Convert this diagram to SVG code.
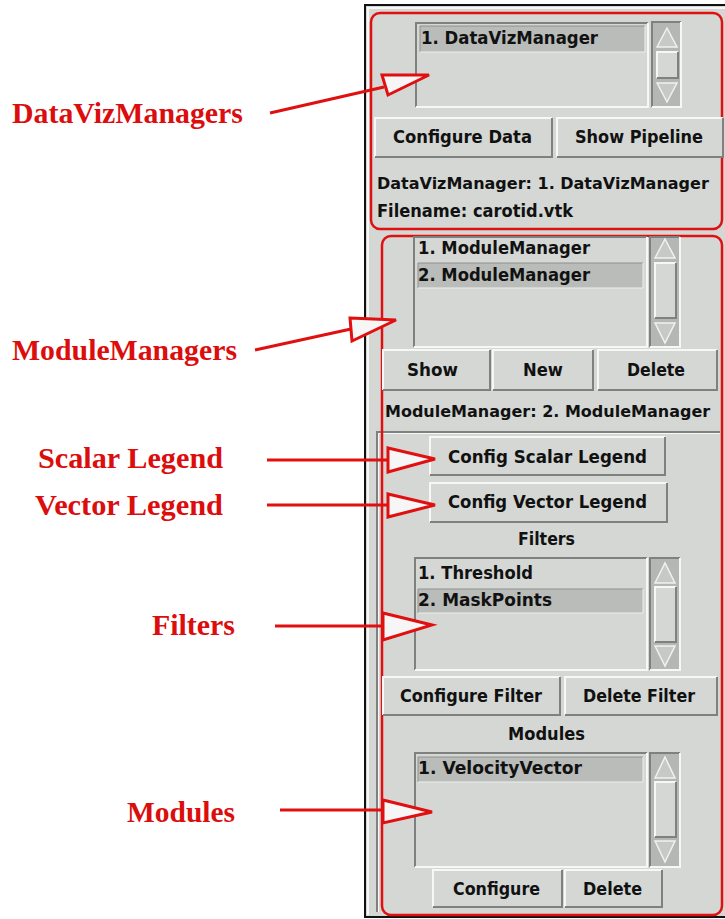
<svg xmlns="http://www.w3.org/2000/svg" width="725" height="919" viewBox="0 0 725 919">
<style>
.lbl{font-family:"Liberation Serif","Times New Roman",serif;font-weight:bold;font-size:29px;fill:#dc0d0d}
.t{font-family:"DejaVu Sans","Liberation Sans",sans-serif;font-weight:bold;font-size:17px;fill:#111}
.t16{font-size:16px}
.bg{fill:#d4d7d4}
.sel{fill:#b9bcb9}
.trough{fill:#b4b7b4}
.hi{fill:none;stroke:#f6f7f6;stroke-width:2}
.sh{fill:none;stroke:#7e817e;stroke-width:2}
.red{fill:none;stroke:#e01010;stroke-width:2.5}
.conn line{stroke:#e01010;stroke-width:3}
.conn polygon{fill:#f6f6f6;stroke:#e01010;stroke-width:3;stroke-linejoin:miter}
</style>
<rect width="725" height="919" fill="#ffffff"/>

<!-- panel frame -->
<g id="panel">
<rect x="365" y="5" width="362" height="912" fill="#d4d7d4" stroke="#111" stroke-width="2"/>
<path d="M368,915 V8 H725" class="hi"/>
<path d="M377,912 V432 H720" class="sh"/>
<path d="M378.5,912 V433.5 H720" fill="none" stroke="#f6f7f6" stroke-width="1"/>
</g>

<!-- DataVizManager section -->
<g id="dataviz-section">
<rect x="371" y="13" width="351" height="216" rx="9" class="red"/>
<g id="dataviz-list">
<rect x="416" y="23" width="232" height="84" class="bg"/>
<path d="M416,107 V23 H648" class="sh"/><path d="M416,107 H648 V23" class="hi"/>
<rect x="420" y="26" width="225" height="26" class="sel"/>
<path d="M420,52 V26 H645" fill="none" stroke="#8e918e" stroke-width="1"/><path d="M420,52 H645 V26" fill="none" stroke="#eef0ee" stroke-width="1"/>
<text x="421" y="44" class="t" textLength="177" lengthAdjust="spacingAndGlyphs">1. DataVizManager</text>
<rect x="652" y="22" width="29" height="85" class="trough"/>
<path d="M652,107 V22 H681" class="sh"/><path d="M652,107 H681 V22" class="hi"/>
<path d="M657,47 L667,28 L677,47 Z" fill="#c6c9c6" stroke="#f0f2f0" stroke-width="1.5"/>
<rect x="657" y="52" width="21" height="26" class="bg"/>
<path d="M657,78 V52 H678" class="hi"/><path d="M657,78 H678 V52" class="sh"/>
<path d="M657,83 L667,102 L677,83 Z" fill="#c6c9c6" stroke="#f0f2f0" stroke-width="1.5"/>
</g>
<g id="btn-configure-data">
<rect x="375" y="118" width="177" height="39" class="bg"/>
<path d="M375,157 V118 H552" class="hi"/><path d="M375,157 H552 V118" class="sh"/>
<text x="393" y="143" class="t" textLength="139" lengthAdjust="spacingAndGlyphs">Configure Data</text>
</g>
<g id="btn-show-pipeline">
<rect x="557" y="118" width="166" height="39" class="bg"/>
<path d="M557,157 V118 H723" class="hi"/><path d="M557,157 H723 V118" class="sh"/>
<text x="575" y="143" class="t" textLength="128" lengthAdjust="spacingAndGlyphs">Show Pipeline</text>
</g>
<text x="377" y="189" class="t t16">DataVizManager: 1. DataVizManager</text>
<text x="377" y="217" class="t" textLength="196" lengthAdjust="spacingAndGlyphs">Filename: carotid.vtk</text>
</g>

<!-- ModuleManager section -->
<g id="module-section">
<rect x="382" y="236" width="340" height="679" rx="9" class="red"/>
<g id="modulemgr-list">
<rect x="414" y="237" width="233" height="110" class="bg"/>
<path d="M414,347 V237 H647" class="sh"/><path d="M414,347 H647 V237" class="hi"/>
<text x="418" y="254" class="t" textLength="172" lengthAdjust="spacingAndGlyphs">1. ModuleManager</text>
<rect x="418" y="263" width="225" height="25" class="sel"/>
<path d="M418,288 V263 H643" fill="none" stroke="#8e918e" stroke-width="1"/><path d="M418,288 H643 V263" fill="none" stroke="#eef0ee" stroke-width="1"/>
<text x="418" y="281" class="t" textLength="172" lengthAdjust="spacingAndGlyphs">2. ModuleManager</text>
<rect x="650" y="237" width="30" height="110" class="trough"/>
<path d="M650,347 V237 H680" class="sh"/><path d="M650,347 H680 V237" class="hi"/>
<path d="M655,258 L665,239 L675,258 Z" fill="#c6c9c6" stroke="#f0f2f0" stroke-width="1.5"/>
<rect x="655" y="263" width="21" height="55" class="bg"/>
<path d="M655,318 V263 H676" class="hi"/><path d="M655,318 H676 V263" class="sh"/>
<path d="M655,323 L665,343 L675,323 Z" fill="#c6c9c6" stroke="#f0f2f0" stroke-width="1.5"/>
</g>
<g id="btn-show">
<rect x="383" y="350" width="107" height="40" class="bg"/>
<path d="M383,390 V350 H490" class="hi"/><path d="M383,390 H490 V350" class="sh"/>
<text x="407" y="376" class="t" textLength="51" lengthAdjust="spacingAndGlyphs">Show</text>
</g>
<g id="btn-new">
<rect x="493" y="350" width="100" height="40" class="bg"/>
<path d="M493,390 V350 H593" class="hi"/><path d="M493,390 H593 V350" class="sh"/>
<text x="523" y="376" class="t" textLength="40" lengthAdjust="spacingAndGlyphs">New</text>
</g>
<g id="btn-delete-mm">
<rect x="598" y="350" width="119" height="40" class="bg"/>
<path d="M598,390 V350 H717" class="hi"/><path d="M598,390 H717 V350" class="sh"/>
<text x="627" y="376" class="t" textLength="58" lengthAdjust="spacingAndGlyphs">Delete</text>
</g>
<text x="385" y="417" class="t t16">ModuleManager: 2. ModuleManager</text>

<g id="btn-scalar-legend">
<rect x="430" y="437" width="235" height="38" class="bg"/>
<path d="M430,475 V437 H665" class="hi"/><path d="M430,475 H665 V437" class="sh"/>
<text x="448" y="463" class="t" textLength="199" lengthAdjust="spacingAndGlyphs">Config Scalar Legend</text>
</g>
<g id="btn-vector-legend">
<rect x="430" y="483" width="237" height="39" class="bg"/>
<path d="M430,522 V483 H667" class="hi"/><path d="M430,522 H667 V483" class="sh"/>
<text x="448" y="508" class="t" textLength="199" lengthAdjust="spacingAndGlyphs">Config Vector Legend</text>
</g>
<text x="518" y="545" class="t" textLength="57" lengthAdjust="spacingAndGlyphs">Filters</text>

<g id="filters-list">
<rect x="415" y="558" width="232" height="112" class="bg"/>
<path d="M415,670 V558 H647" class="sh"/><path d="M415,670 H647 V558" class="hi"/>
<text x="418" y="579" class="t" textLength="115" lengthAdjust="spacingAndGlyphs">1. Threshold</text>
<rect x="418" y="589" width="225" height="24" class="sel"/>
<path d="M418,613 V589 H643" fill="none" stroke="#8e918e" stroke-width="1"/><path d="M418,613 H643 V589" fill="none" stroke="#eef0ee" stroke-width="1"/>
<text x="418" y="606" class="t" textLength="134" lengthAdjust="spacingAndGlyphs">2. MaskPoints</text>
<rect x="650" y="558" width="30" height="112" class="trough"/>
<path d="M650,670 V558 H680" class="sh"/><path d="M650,670 H680 V558" class="hi"/>
<path d="M655,583 L665,563 L675,583 Z" fill="#c6c9c6" stroke="#f0f2f0" stroke-width="1.5"/>
<rect x="655" y="587" width="21" height="55" class="bg"/>
<path d="M655,642 V587 H676" class="hi"/><path d="M655,642 H676 V587" class="sh"/>
<path d="M655,646 L665,666 L675,646 Z" fill="#c6c9c6" stroke="#f0f2f0" stroke-width="1.5"/>
</g>
<g id="btn-configure-filter">
<rect x="383" y="677" width="177" height="38" class="bg"/>
<path d="M383,715 V677 H560" class="hi"/><path d="M383,715 H560 V677" class="sh"/>
<text x="400" y="702" class="t" textLength="142" lengthAdjust="spacingAndGlyphs">Configure Filter</text>
</g>
<g id="btn-delete-filter">
<rect x="565" y="677" width="152" height="38" class="bg"/>
<path d="M565,715 V677 H717" class="hi"/><path d="M565,715 H717 V677" class="sh"/>
<text x="583" y="702" class="t" textLength="112" lengthAdjust="spacingAndGlyphs">Delete Filter</text>
</g>
<text x="508" y="740" class="t" textLength="77" lengthAdjust="spacingAndGlyphs">Modules</text>

<g id="modules-list">
<rect x="415" y="753" width="232" height="114" class="bg"/>
<path d="M415,867 V753 H647" class="sh"/><path d="M415,867 H647 V753" class="hi"/>
<rect x="418" y="757" width="225" height="25" class="sel"/>
<path d="M418,782 V757 H643" fill="none" stroke="#8e918e" stroke-width="1"/><path d="M418,782 H643 V757" fill="none" stroke="#eef0ee" stroke-width="1"/>
<text x="418" y="774" class="t" textLength="164" lengthAdjust="spacingAndGlyphs">1. VelocityVector</text>
<rect x="650" y="753" width="30" height="114" class="trough"/>
<path d="M650,867 V753 H680" class="sh"/><path d="M650,867 H680 V753" class="hi"/>
<path d="M655,778 L665,757 L675,778 Z" fill="#c6c9c6" stroke="#f0f2f0" stroke-width="1.5"/>
<rect x="655" y="782" width="21" height="55" class="bg"/>
<path d="M655,837 V782 H676" class="hi"/><path d="M655,837 H676 V782" class="sh"/>
<path d="M655,841 L665,862 L675,841 Z" fill="#c6c9c6" stroke="#f0f2f0" stroke-width="1.5"/>
</g>
<g id="btn-configure">
<rect x="433" y="870" width="129" height="37" class="bg"/>
<path d="M433,907 V870 H562" class="hi"/><path d="M433,907 H562 V870" class="sh"/>
<text x="453" y="895" class="t" textLength="87" lengthAdjust="spacingAndGlyphs">Configure</text>
</g>
<g id="btn-delete-module">
<rect x="565" y="870" width="97" height="37" class="bg"/>
<path d="M565,907 V870 H662" class="hi"/><path d="M565,907 H662 V870" class="sh"/>
<text x="583" y="895" class="t" textLength="59" lengthAdjust="spacingAndGlyphs">Delete</text>
</g>
</g>

<!-- labels -->
<g id="label-datavizmanagers"><text x="12" y="123" class="lbl" textLength="231" lengthAdjust="spacingAndGlyphs">DataVizManagers</text></g>
<g id="label-modulemanagers"><text x="12" y="360" class="lbl" textLength="225" lengthAdjust="spacingAndGlyphs">ModuleManagers</text></g>
<g id="label-scalar-legend"><text x="38" y="468" class="lbl" textLength="185" lengthAdjust="spacingAndGlyphs">Scalar Legend</text></g>
<g id="label-vector-legend"><text x="35" y="515" class="lbl" textLength="188" lengthAdjust="spacingAndGlyphs">Vector Legend</text></g>
<g id="label-filters"><text x="152" y="635" class="lbl" textLength="83" lengthAdjust="spacingAndGlyphs">Filters</text></g>
<g id="label-modules"><text x="127" y="822" class="lbl" textLength="108" lengthAdjust="spacingAndGlyphs">Modules</text></g>

<!-- connectors -->
<g id="connectors" class="conn">
<line x1="270" y1="113" x2="384" y2="87"/>
<polygon points="382,75 429,75 388,95"/>
<line x1="255" y1="350" x2="351" y2="329"/>
<polygon points="350,318 396,320 352,341"/>
<line x1="267" y1="460" x2="388" y2="460"/>
<polygon points="388,448 435,459 388,472"/>
<line x1="267" y1="505" x2="388" y2="505"/>
<polygon points="388,494 435,505 388,517"/>
<line x1="275" y1="626" x2="383" y2="626"/>
<polygon points="383,613 432,625 383,640"/>
<line x1="280" y1="810" x2="383" y2="810"/>
<polygon points="383,800 432,812 383,823"/>
</g>
</svg>
